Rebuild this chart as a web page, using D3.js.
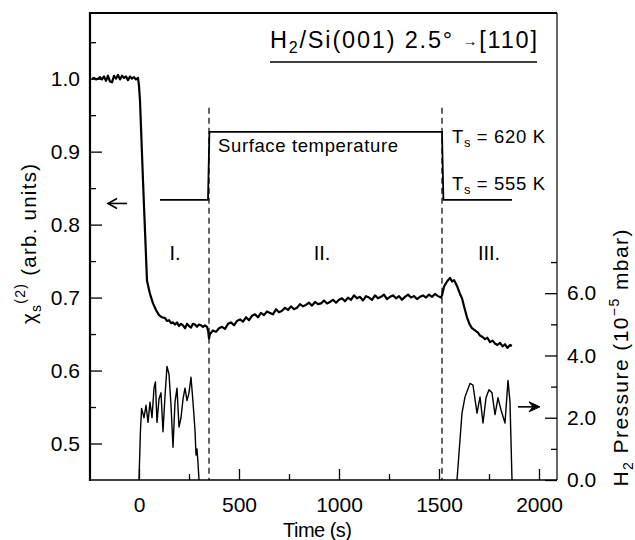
<!DOCTYPE html>
<html>
<head>
<meta charset="utf-8">
<script src="https://cdn.jsdelivr.net/npm/d3@7"></script>
<style>
  body { margin: 0; background: #fff; }
  svg { font-family: "Liberation Sans", Arial, sans-serif; }
</style>
</head>
<body>
<script>
// SHG signal chi_s(2) vs time, [time (s), value]
const chiData = [
  [-235,1.000],[-225,1.001],[-215,0.999],[-205,1.000],[-195,1.002],[-185,0.999],[-175,1.003],[-165,0.997],
  [-155,1.004],[-145,0.996],[-135,0.995],[-125,1.004],[-115,1.000],[-105,1.005],[-95,0.999],[-85,1.004],
  [-75,1.001],[-65,1.003],[-55,0.998],[-45,1.003],[-35,1.000],[-25,1.002],[-15,0.999],[-5,1.001],
  [0,0.990],[5,0.970],[20,0.860],[40,0.723],[55,0.705],[70,0.692],[85,0.683],[100,0.676],[115,0.673],
  [130,0.672],[140,0.668],[150,0.669],[160,0.665],[170,0.666],[180,0.663],[190,0.666],[200,0.661],
  [210,0.664],[220,0.662],[230,0.658],[240,0.664],[250,0.661],[260,0.659],[270,0.664],[280,0.663],
  [290,0.660],[300,0.663],[310,0.662],[320,0.660],[330,0.662],[340,0.660],[346,0.654],[350,0.644],
  [355,0.650],[370,0.655],[385,0.653],[400,0.658],[415,0.660],[430,0.657],[445,0.664],[460,0.666],
  [475,0.662],[490,0.668],[505,0.670],[520,0.667],[535,0.673],[550,0.669],[565,0.675],[580,0.677],
  [595,0.673],[610,0.679],[625,0.676],[640,0.681],[655,0.679],[670,0.677],[685,0.684],[700,0.680],
  [715,0.682],[730,0.686],[745,0.683],[760,0.688],[775,0.684],[790,0.686],[805,0.691],[820,0.688],
  [835,0.690],[850,0.693],[865,0.689],[880,0.694],[895,0.691],[910,0.692],[925,0.696],[940,0.692],
  [955,0.694],[970,0.697],[985,0.693],[1000,0.697],[1015,0.699],[1030,0.695],[1045,0.700],[1060,0.697],
  [1075,0.703],[1090,0.699],[1105,0.701],[1120,0.696],[1135,0.702],[1150,0.700],[1165,0.697],[1180,0.703],
  [1195,0.699],[1210,0.701],[1225,0.704],[1240,0.698],[1255,0.701],[1270,0.703],[1285,0.699],[1300,0.702],
  [1315,0.697],[1330,0.701],[1345,0.704],[1360,0.700],[1375,0.702],[1390,0.698],[1405,0.701],[1420,0.703],
  [1435,0.700],[1450,0.704],[1465,0.701],[1480,0.705],[1495,0.702],[1510,0.700],
  [1515,0.703],[1525,0.715],[1540,0.722],[1555,0.727],[1565,0.722],[1575,0.724],[1590,0.716],[1605,0.705],
  [1615,0.699],[1628,0.685],[1640,0.673],[1652,0.664],[1665,0.658],[1680,0.655],[1695,0.652],[1705,0.648],
  [1718,0.646],[1730,0.643],[1742,0.645],[1755,0.639],[1768,0.641],[1780,0.637],[1792,0.635],[1805,0.638],
  [1818,0.633],[1830,0.636],[1842,0.631],[1855,0.635],[1865,0.634]
];

// H2 pressure (1e-5 mbar) during the two dosing runs
const pressureRunI = [
  [0,0],[7,1.55],[13,2.3],[25,2.0],[35,2.4],[45,1.85],[55,2.5],[65,2.0],[75,2.95],[82,3.15],[90,1.85],
  [100,2.6],[110,2.8],[120,1.55],[130,2.7],[140,3.65],[150,3.4],[160,2.4],[170,1.05],[180,2.5],[190,2.95],
  [200,1.7],[210,2.0],[220,2.6],[230,2.95],[240,2.55],[250,2.8],[260,3.3],[270,2.5],[280,1.6],[285,0.8],
  [290,1.0],[295,0.55],[300,0]
];
const pressureRunIII = [
  [1590,0],[1615,2.15],[1630,2.67],[1655,3.1],[1670,3.05],[1690,2.15],[1705,2.67],[1720,1.83],[1735,2.64],
  [1750,2.9],[1765,2.8],[1780,2.1],[1795,2.64],[1810,2.25],[1830,1.83],[1845,3.2],[1855,2.5],[1865,0]
];

// surface temperature step (K)
const tempTime = [105, 345, 352, 1515, 1522, 1865];
const tempK = [555, 555, 620, 620, 555, 555];

// phase boundaries and labels
const phaseBounds = [350, 1515];
const phaseLabels = [["I.", 180], ["II.", 915], ["III.", 1750]];

const xTicks = [0, 500, 1000, 1500, 2000];
const xMinor = [250, 750, 1250, 1750];
const yTicks = [0.5, 0.6, 0.7, 0.8, 0.9, 1.0];
const yMinor = [0.55, 0.65, 0.75, 0.85, 0.95, 1.05];
const pTicks = [0, 2, 4, 6];
const pMinor = [1, 3, 5, 7];

let width = 635, height = 540;
let margin = { top: 13, right: 78, bottom: 60, left: 90 };
let x0 = margin.left, x1 = width - margin.right, y0 = height - margin.bottom, y1 = margin.top;

let svg = d3.select("body").append("svg")
  .attr("width", width).attr("height", height);

let x = d3.scaleLinear().domain([-245, 2090]).range([x0, x1]);
let y = d3.scaleLinear().domain([0.45, 1.09]).range([y0, y1]);
let yP = d3.scaleLinear().domain([0, 15]).range([y0, y1]);
// temperature drawn as a schematic step in the upper part
let yT = d3.scaleLinear().domain([555, 620]).range([y(0.834), y(0.927)]);

// axes, ticks inward
function styleAxis(g) {
  g.select(".domain").remove();
  g.selectAll("line").attr("stroke", "#000").attr("stroke-width", 1.3);
  g.selectAll("text").attr("font-size", 21).attr("fill", "#000")
    .attr("font-family", "'Liberation Sans', Arial, sans-serif");
}
svg.append("g").attr("transform", `translate(${x0},0)`)
  .call(d3.axisLeft(y).tickValues(yTicks).tickSize(-12).tickPadding(10).tickFormat(d3.format(".1f")))
  .call(styleAxis);
svg.append("g").attr("transform", `translate(${x0},0)`)
  .call(d3.axisLeft(y).tickValues(yMinor).tickSize(-6).tickFormat(""))
  .call(styleAxis);
svg.append("g").attr("transform", `translate(0,${y0})`)
  .call(d3.axisBottom(x).tickValues(xTicks).tickSize(-11).tickPadding(17).tickFormat(d3.format("d")))
  .call(styleAxis);
svg.append("g").attr("transform", `translate(0,${y0})`)
  .call(d3.axisBottom(x).tickValues(xMinor).tickSize(-6).tickFormat(""))
  .call(styleAxis);
svg.append("g").attr("transform", `translate(${x1},0)`)
  .call(d3.axisRight(yP).tickValues(pTicks).tickSize(-12).tickPadding(10).tickFormat(d3.format(".1f")))
  .call(styleAxis);
svg.append("g").attr("transform", `translate(${x1},0)`)
  .call(d3.axisRight(yP).tickValues(pMinor).tickSize(-6).tickFormat(""))
  .call(styleAxis);

// frame
svg.append("line").attr("x1", x0).attr("x2", x0).attr("y1", y1 - 1).attr("y2", y0 + 1)
  .attr("stroke", "#000").attr("stroke-width", 2.2);
svg.append("line").attr("x1", x0).attr("x2", x1).attr("y1", y0).attr("y2", y0)
  .attr("stroke", "#000").attr("stroke-width", 1.5);
svg.append("line").attr("x1", x0).attr("x2", x1).attr("y1", y1).attr("y2", y1)
  .attr("stroke", "#000").attr("stroke-width", 1.8);
svg.append("line").attr("x1", x1).attr("x2", x1).attr("y1", y1).attr("y2", y0)
  .attr("stroke", "#000").attr("stroke-width", 1.2);

// dashed phase boundaries
svg.selectAll(".bound").data(phaseBounds).enter().append("line")
  .attr("x1", d => x(d)).attr("x2", d => x(d))
  .attr("y1", y(0.96)).attr("y2", y0)
  .attr("stroke", "#000").attr("stroke-width", 1.2).attr("stroke-dasharray", "6,4");

// temperature step
let tempLine = d3.line().x((d, i) => x(tempTime[i])).y(d => yT(d));
svg.append("path").datum(tempK).attr("d", tempLine)
  .attr("fill", "none").attr("stroke", "#000").attr("stroke-width", 1.8);

// chi signal
let line = d3.line().x(d => x(d[0])).y(d => y(d[1]));
svg.append("path").datum(chiData).attr("d", line)
  .attr("fill", "none").attr("stroke", "#000").attr("stroke-width", 2.2).attr("stroke-linejoin", "round");

// pressure
let pLine = d3.line().x(d => x(d[0])).y(d => yP(d[1]));
[pressureRunI, pressureRunIII].forEach(run => {
  svg.append("path").datum(run).attr("d", pLine)
    .attr("fill", "none").attr("stroke", "#000").attr("stroke-width", 1.4).attr("stroke-linejoin", "round");
});

// arrows pointing to the axes
svg.append("line").attr("x1", x(-60)).attr("x2", x(-155)).attr("y1", y(0.829)).attr("y2", y(0.829))
  .attr("stroke", "#000").attr("stroke-width", 1.6);
svg.append("path")
  .attr("d", `M${x(-155) + 9},${y(0.829) - 5} L${x(-155)},${y(0.829)} L${x(-155) + 9},${y(0.829) + 5}`)
  .attr("fill", "none").attr("stroke", "#000").attr("stroke-width", 1.6);
svg.append("line").attr("x1", x(1895)).attr("x2", x(2000)).attr("y1", yP(2.35)).attr("y2", yP(2.35))
  .attr("stroke", "#000").attr("stroke-width", 1.6);
svg.append("path")
  .attr("d", `M${x(2005) - 11},${yP(2.35) - 5} L${x(2005)},${yP(2.35)} L${x(2005) - 11},${yP(2.35) + 5} L${x(2005) - 7},${yP(2.35)} Z`)
  .attr("fill", "#000").attr("stroke", "#000").attr("stroke-width", 1);

// phase labels
svg.selectAll(".phase").data(phaseLabels).enter().append("text")
  .attr("x", d => x(d[1])).attr("y", y(0.752))
  .attr("text-anchor", "middle").attr("font-size", 20)
  .text(d => d[0]);

// annotations
svg.append("text").attr("x", x(395)).attr("y", y(0.899))
  .attr("font-size", 18.5).attr("textLength", 180).attr("lengthAdjust", "spacing")
  .text("Surface temperature");

function tsLabel(k, val) {
  let t = svg.append("text").attr("x", x(1565)).attr("y", y(val))
    .attr("font-size", 18.5).attr("textLength", 93).attr("lengthAdjust", "spacing");
  t.append("tspan").text("T");
  t.append("tspan").attr("font-size", 13).attr("dy", 4).text("s");
  t.append("tspan").attr("dy", -4).text(" = " + k + " K");
}
tsLabel(620, 0.912);
tsLabel(555, 0.847);

// title
let title = svg.append("text").attr("x", 270).attr("y", 48)
  .attr("font-size", 23.5).attr("textLength", 267).attr("lengthAdjust", "spacing");
title.append("tspan").text("H");
title.append("tspan").attr("font-size", 16).attr("dy", 5).text("2");
title.append("tspan").attr("dy", -5).text("/Si(001) 2.5° ");
title.append("tspan").attr("font-size", 15).attr("dy", -2).text("→");
title.append("tspan").attr("dy", 2).text("[110]");
svg.append("line").attr("x1", 270).attr("x2", 537).attr("y1", 62).attr("y2", 62)
  .attr("stroke", "#000").attr("stroke-width", 1.5);

// axis titles
svg.append("text").attr("x", (283 + 352) / 2).attr("y", 537)
  .attr("text-anchor", "middle").attr("font-size", 20)
  .attr("textLength", 69).attr("lengthAdjust", "spacing")
  .text("Time (s)");

let yl = svg.append("text")
  .attr("transform", "translate(36,244) rotate(-90)")
  .attr("text-anchor", "middle").attr("font-size", 20.5)
  .attr("textLength", 160).attr("lengthAdjust", "spacing");
yl.append("tspan").text("χ");
yl.append("tspan").attr("font-size", 14).attr("dy", 5).text("s");
yl.append("tspan").attr("font-size", 14).attr("dy", -16).text("(2)");
yl.append("tspan").attr("dy", 11).text(" (arb. units)");

let yr = svg.append("text")
  .attr("transform", "translate(628,358) rotate(-90)")
  .attr("text-anchor", "middle").attr("font-size", 21)
  .attr("textLength", 257).attr("lengthAdjust", "spacing");
yr.append("tspan").text("H");
yr.append("tspan").attr("font-size", 14).attr("dy", 5).text("2");
yr.append("tspan").attr("dy", -5).text(" Pressure (10");
yr.append("tspan").attr("font-size", 14).attr("dy", -9).text("−5");
yr.append("tspan").attr("dy", 9).text(" mbar)");
</script>
</body>
</html>
